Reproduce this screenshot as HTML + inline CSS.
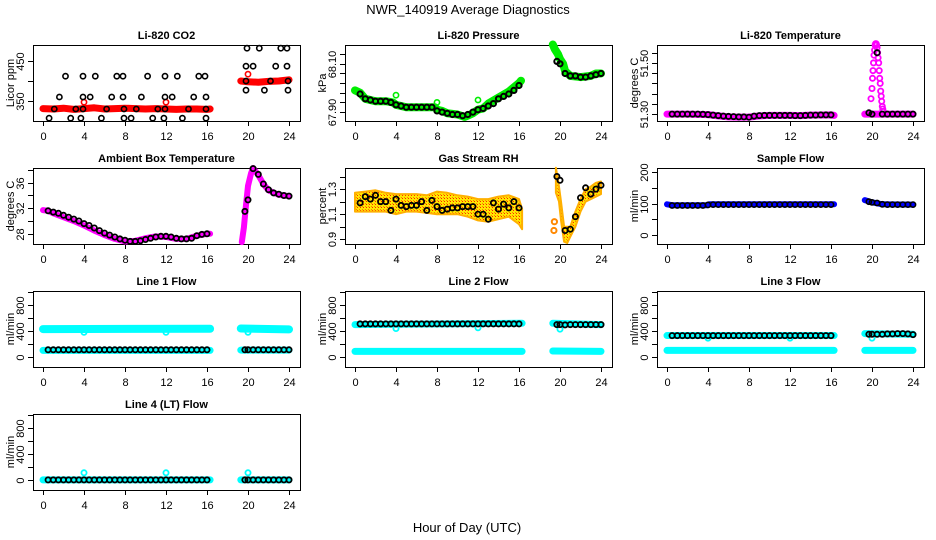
<!DOCTYPE html>
<html><head><meta charset="utf-8"><style>
html,body{margin:0;padding:0;background:#fff}
svg{display:block;font-family:"Liberation Sans",Arial,sans-serif}
</style></head><body>
<svg id="chart" width="936" height="540" viewBox="0 0 936 540" xmlns="http://www.w3.org/2000/svg">
<defs>
<pattern id="rhpat" width="3" height="3" patternUnits="userSpaceOnUse"><rect width="3" height="3" fill="#ffe800"/><rect width="1" height="1" fill="#ff2000"/><rect x="2" y="2" width="1" height="1" fill="#ff8000"/></pattern>
</defs>
<text x="468" y="14" font-size="13" text-anchor="middle">NWR_140919  Average Diagnostics</text>
<text x="467" y="532" font-size="13" text-anchor="middle">Hour of Day (UTC)</text>
</svg>
<script>
// ---- shared black-point times ----
const bT = [0.5,1,1.5,2,2.5,3,3.5,4,4.5,5,5.5,6,6.5,7,7.5,8,8.5,9,9.5,10,10.5,11,11.5,12,12.5,13,13.5,14,14.5,15,15.5,16,19.7,20,20.5,21,21.5,22,22.5,23,23.5,24];
const xTicks = [0,4,8,12,16,20,24];

// ---- CO2 ----
const co2RedT = [0,1,2,3,4,5,6,7,8,9,10,11,12,13,14,15,16,16.3,19.3,20,21,22,23,24];
const co2RedV = [331,330,332,329,331,333,330,331,332,331,330,331,330,329,330,330,329,330,400,398,397,399,400,403];
const co2OutT = [4,12,20];
const co2OutV = [347,347,417];
const co2BlkT = [0.6,1.1,1.6,2.2,2.7,3.2,3.7,3.9,3.9,3.9,4.6,5.1,5.7,6.2,6.7,7.2,7.8,7.8,7.9,7.9,8.6,9.1,9.6,10.2,10.7,11.2,11.8,11.9,11.9,11.9,12.6,13.1,13.6,14.2,14.7,15.2,15.8,15.9,15.9,15.9,19.8,19.8,19.8,19.9,20.5,21.1,21.6,22.2,22.7,23.2,23.8,23.8,23.9,23.9];
const co2BlkV = [307,330,360,412,307,330,307,412,360,330,360,412,307,330,360,412,412,360,307,330,307,330,360,412,307,330,307,412,360,330,360,412,307,330,360,412,412,360,307,330,377,400,437,482,437,482,377,400,437,482,482,437,400,377];

// ---- Pressure ----
const prT = [0,0.5,1,2,3,3.7,4,4.5,5,7,7.8,8,8.5,9,10,10.7,11,11.5,12,12.5,13,14,15,16,16.2,19.3,19.5,19.8,20,20.3,20.5,21,22,23,23.5,24];
const prV = [67.99,67.98,67.955,67.945,67.945,67.94,67.93,67.925,67.92,67.92,67.92,67.91,67.905,67.895,67.89,67.88,67.885,67.895,67.91,67.915,67.935,67.96,67.985,68.02,68.03,68.18,68.16,68.14,68.12,68.10,68.07,68.05,68.045,68.05,68.06,68.06];
const prOutT = [4,8,12];
const prOutV = [67.97,67.94,67.95];
const prBlkV = [67.975,67.955,67.95,67.945,67.945,67.945,67.94,67.93,67.925,67.92,67.92,67.92,67.92,67.92,67.92,67.905,67.9,67.895,67.89,67.89,67.885,67.89,67.9,67.91,67.915,67.925,67.935,67.955,67.965,67.975,67.99,68.01,68.11,68.10,68.06,68.05,68.05,68.045,68.045,68.05,68.055,68.06];

// ---- Li-820 Temperature ----
const ltT = [0,2,4,5,6,7,8,9,10,12,13,14,16,16.3,19.3,19.6,21.2,22,24];
const ltV = [51.30,51.30,51.298,51.293,51.289,51.288,51.288,51.293,51.295,51.295,51.294,51.296,51.297,51.295,51.30,51.30,51.30,51.30,51.30];
const ltPeakT = [19.9,20.0,20.05,20.1,20.15,20.2,20.25,20.3,20.35,20.4,20.45,20.5,20.55,20.6,20.65,20.7,20.75,20.8,20.85,20.9,20.95,21.0,21.05,21.1];
const ltPeakV = [51.36,51.40,51.44,51.47,51.50,51.53,51.55,51.57,51.575,51.575,51.57,51.56,51.54,51.52,51.50,51.47,51.44,51.42,51.39,51.37,51.35,51.33,51.32,51.31];
const ltBlkV = [51.30,51.30,51.30,51.30,51.30,51.30,51.299,51.298,51.296,51.294,51.292,51.291,51.290,51.289,51.289,51.288,51.292,51.294,51.295,51.295,51.295,51.295,51.295,51.295,51.294,51.294,51.295,51.296,51.296,51.297,51.297,51.297,51.305,51.30,51.54,51.30,51.30,51.30,51.30,51.30,51.30,51.30];

// ---- Ambient Box Temperature ----
const abT = [0,0.5,1,2,3,4,5,6,7,8,9,10,11,12,13,14,15,16,16.3,19.4,19.6,19.8,20,20.3,20.5,21,21.5,22,23,24];
const abV = [31.7,31.6,31.2,30.6,30.0,29.3,28.5,27.8,27.2,26.8,26.9,27.3,27.6,27.5,27.2,27.2,27.7,28.0,28.0,26.7,29.0,32.5,35.5,37.5,38.3,37.2,35.8,34.8,34.1,33.9];
const abBlkV = [31.6,31.4,31.2,30.9,30.6,30.3,30.0,29.6,29.3,28.9,28.5,28.1,27.8,27.5,27.2,27.0,26.8,26.8,26.9,27.1,27.3,27.5,27.6,27.6,27.5,27.3,27.2,27.2,27.3,27.7,27.9,28.0,31.5,33.3,38.2,37.3,35.8,34.9,34.4,34.2,34.0,33.9];

// ---- Gas Stream RH ----
const rhBandT = [0,1,2,3,4,5,6,7,8,9,10,11,12,13,14,15,16,16.3];
const rhLo = [1.12,1.12,1.12,1.12,1.10,1.12,1.12,1.11,1.10,1.10,1.10,1.08,1.05,1.04,1.06,1.08,1.02,0.98];
const rhHi = [1.27,1.28,1.29,1.27,1.26,1.26,1.26,1.25,1.28,1.27,1.25,1.24,1.22,1.22,1.24,1.25,1.22,1.14];
const rhBand2T = [19.6,19.9,20.1,20.4,20.7,21,21.5,22,22.5,23,23.5,24];
const rhLo2 = [1.27,1.20,1.05,0.88,0.87,0.92,1.00,1.12,1.20,1.22,1.24,1.26];
const rhHi2 = [1.47,1.32,1.20,1.00,1.00,1.00,1.12,1.22,1.30,1.32,1.35,1.36];
const rhSpotT = [19.4,19.45];
const rhSpotV = [0.97,1.04];
const rhBlkV = [1.19,1.24,1.22,1.25,1.20,1.20,1.13,1.22,1.17,1.16,1.17,1.17,1.20,1.13,1.21,1.16,1.13,1.14,1.15,1.15,1.16,1.16,1.16,1.10,1.10,1.06,1.19,1.14,1.18,1.15,1.20,1.15,1.40,1.37,0.97,0.98,1.08,1.23,1.31,1.26,1.30,1.33];

// ---- Sample Flow ----
const sfT = [0,0.5,4,4.1,16.3,19.3,19.8,20.2,21,24];
const sfV = [98,95,95,98,98,111,106,103,98,97];
const sfBlkV = [94,94,94,94,94,94,94,96,97,97,97,97,97,97,97,97,97,97,97,97,97,97,97,97,97,97,97,97,97,97,97,97,106,104,102,98,97,97,97,97,97,97];

// ---- Line flows ----
const lfT = [0,16.3,19.3,24];
const l1Up = [430,435,440,425];
const l1Lo = [100,100,105,105];
const l1OutV = [380,380,380];
const l1BlkV = [110,110,110,110,110,110,110,110,110,110,110,110,110,110,110,110,110,110,110,110,110,110,110,110,110,110,110,110,110,110,110,110,110,110,110,110,110,110,110,110,110,110];
const l2Up = [500,520,520,500];
const l2Lo = [85,85,90,85];
const l2OutV = [440,450,430];
const l2BlkV = [510,510,510,510,510,510,510,510,510,510,510,510,510,510,510,510,510,510,510,510,510,510,510,510,510,510,510,510,510,510,510,510,500,500,495,500,500,500,500,500,500,500];
const l3Up = [330,330,360,350];
const l3Lo = [100,100,100,100];
const l3OutV = [290,290,290];
const l3BlkV = [330,330,330,330,330,330,330,330,330,330,330,330,330,330,330,330,330,330,330,330,330,330,330,330,330,330,330,330,330,330,330,330,350,350,350,350,355,355,360,360,355,345];
const l4Up = [0,0,0,0];
const l4OutV = [110,110,110];
const l4BlkV = [0,0,0,0,0,0,0,0,0,0,0,0,0,0,0,0,0,0,0,0,0,0,0,0,0,0,0,0,0,0,0,0,0,0,0,0,0,0,0,0,0,0];
const outT = [4,12,20];

const svg = document.getElementById('chart');
const NS = 'http://www.w3.org/2000/svg';
const rowTops = [45,168,291,414];
function mk(tag, attrs, parent){
  const e = document.createElementNS(NS, tag);
  for (const k in attrs) e.setAttribute(k, attrs[k]);
  (parent||svg).appendChild(e);
  return e;
}
function panel(name, col, row, title, ylab, ymin, ymax, ticks, labels){
  const cx = col*312, top = rowTops[row], left = cx+33, w = 267, h = 76;
  const g = mk('g', {});
  
  
  const X = t => cx + 43 + t*246/24;
  const Y = v => top + (ymax - v)/(ymax - ymin)*h;
  const t1 = mk('text', {x: left + w/2, y: top-6, 'font-size': 11, 'font-weight': 'bold', 'text-anchor': 'middle'}, g);
  t1.textContent = title;
  
  
  const box = mk('rect', {x: left+0.5, y: top+0.5, width: w, height: h, fill: 'none', stroke: '#000', 'stroke-width': 1}, g);
  
  
  const xa = mk('g', {}, g);
  
  
  xTicks.forEach(t => {
    const x = Math.round(X(t)) + 0.5;
    mk('line', {x1: x, x2: x, y1: top+h, y2: top+h+5, stroke: '#000'}, xa);
    const tl = mk('text', {x: x, y: top+h+19, 'font-size': 11, 'text-anchor': 'middle'}, xa);
    tl.textContent = t;
  });
  const ya = mk('g', {}, g);
  
  
  ticks.forEach((v, i) => {
    const y = Math.round(Y(v)) + 0.5;
    mk('line', {x1: left-5, x2: left, y1: y, y2: y, stroke: '#000'}, ya);
    if (labels[i]) {
      const tl = mk('text', {x: left-9, y: y, 'font-size': 11, 'text-anchor': 'middle', transform: `rotate(-90 ${left-9} ${y})`}, ya);
      tl.textContent = labels[i];
    }
  });
  const yt = mk('text', {x: cx+14, y: top+h/2, 'font-size': 11, 'text-anchor': 'middle', transform: `rotate(-90 ${cx+14} ${top+h/2})`}, g);
  yt.textContent = ylab;
  
  
  return {g, X, Y};
}
// data gap: no measurements between ~16.5h and ~19h
const isGap = (a, b) => a < 17 && b > 19;
function band(p, name, T, V, color, width){
  const g = mk('g', {}, p.g);
  
  
  let d = '';
  for (let i = 0; i < T.length; i++) {
    const cmd = (i === 0 || isGap(T[i-1], T[i])) ? 'M' : 'L';
    d += cmd + p.X(T[i]).toFixed(1) + ' ' + p.Y(V[i]).toFixed(2) + ' ';
  }
  mk('path', {d: d, fill: 'none', stroke: color, 'stroke-width': width, 'stroke-linejoin': 'round', 'stroke-linecap': 'round'}, g);
}
function pts(p, name, T, V, color, sw){
  const g = mk('g', {}, p.g);
  
  
  for (let i = 0; i < T.length; i++) {
    mk('circle', {cx: p.X(T[i]).toFixed(1), cy: p.Y(V[i]).toFixed(1), r: 2.6, fill: 'none', stroke: color, 'stroke-width': sw||1.6}, g);
  }
}
function area(p, name, T, lo, hi){
  let d = '';
  for (let i = 0; i < T.length; i++) d += (i?'L':'M') + p.X(T[i]).toFixed(1) + ' ' + p.Y(hi[i]).toFixed(1) + ' ';
  for (let i = T.length-1; i >= 0; i--) d += 'L' + p.X(T[i]).toFixed(1) + ' ' + p.Y(lo[i]).toFixed(1) + ' ';
  const e = mk('path', {d: d + 'Z', fill: 'url(#rhpat)', stroke: '#ffb000', 'stroke-width': 2, 'stroke-linejoin': 'round'}, p.g);
  
  
}
const CY = '#00ffff';
const flowTicks = [0,200,400,600,800,1000], flowLabels = ['0','','400','','800',''];

let p = panel('co2', 0, 0, 'Li-820 CO2', 'Licor ppm', 300, 490, [350,400,450], ['350','','450']);
band(p, 'co2-red-series', co2RedT, co2RedV, '#ff0000', 7);
pts(p, 'co2-red-outliers', co2OutT, co2OutV, '#ff0000');
pts(p, 'co2-black-points', co2BlkT, co2BlkV, '#000');

p = panel('pressure', 1, 0, 'Li-820 Pressure', 'kPa', 67.863, 68.178, [67.90,67.94,67.98,68.02,68.06,68.10,68.14], ['67.90','','','','','68.10','']);
band(p, 'pressure-green-series', prT, prV, '#00ee00', 8);
pts(p, 'pressure-green-outliers', prOutT, prOutV, '#00ee00');
pts(p, 'pressure-black-points', bT, prBlkV, '#000', 2);

p = panel('li820-temp', 2, 0, 'Li-820 Temperature', 'degrees C', 51.273, 51.57, [51.30,51.34,51.38,51.42,51.46,51.50,51.54], ['51.30','','','','','51.50','']);
band(p, 'li820-temp-magenta-series', ltT, ltV, '#ff00ff', 7);
pts(p, 'li820-temp-peak-points', ltPeakT, ltPeakV, '#ff00ff', 1.8);
pts(p, 'li820-temp-black-points', bT, ltBlkV, '#000', 1.8);

p = panel('ambient-temp', 0, 1, 'Ambient Box Temperature', 'degrees C', 26.4, 38.3, [28,30,32,34,36,38], ['28','','32','','36','']);
band(p, 'ambient-temp-magenta-series', abT, abV, '#ff00ff', 6);
pts(p, 'ambient-temp-black-points', bT, abBlkV, '#000', 1.8);

p = panel('rh', 1, 1, 'Gas Stream RH', 'percent', 0.862, 1.468, [0.9,1.0,1.1,1.2,1.3,1.4], ['0.9','','1.1','','1.3','']);
area(p, 'rh-band-morning', rhBandT, rhLo, rhHi);
area(p, 'rh-band-evening', rhBand2T, rhLo2, rhHi2);
pts(p, 'rh-orange-spots', rhSpotT, rhSpotV, '#ff8800', 2);
pts(p, 'rh-black-points', bT, rhBlkV, '#000', 1.8);

p = panel('sample-flow', 2, 1, 'Sample Flow', 'ml/min', -28, 213, [0,50,100,150,200], ['0','','100','','200']);
band(p, 'sample-flow-blue-series', sfT, sfV, '#0000ff', 6);
pts(p, 'sample-flow-black-points', bT, sfBlkV, '#000', 1.6);

p = panel('line1-flow', 0, 2, 'Line 1 Flow', 'ml/min', -157, 1020, flowTicks, flowLabels);
band(p, 'line1-upper-series', lfT, l1Up, CY, 8);
band(p, 'line1-lower-series', lfT, l1Lo, CY, 7);
pts(p, 'line1-outliers', outT, l1OutV, CY, 1.8);
pts(p, 'line1-black-points', bT, l1BlkV, '#000', 1.8);

p = panel('line2-flow', 1, 2, 'Line 2 Flow', 'ml/min', -157, 1020, flowTicks, flowLabels);
band(p, 'line2-upper-series', lfT, l2Up, CY, 7);
band(p, 'line2-lower-series', lfT, l2Lo, CY, 7);
pts(p, 'line2-outliers', outT, l2OutV, CY, 1.8);
pts(p, 'line2-black-points', bT, l2BlkV, '#000', 1.8);

p = panel('line3-flow', 2, 2, 'Line 3 Flow', 'ml/min', -157, 1020, flowTicks, flowLabels);
band(p, 'line3-upper-series', lfT, l3Up, CY, 7);
band(p, 'line3-lower-series', lfT, l3Lo, CY, 7);
pts(p, 'line3-outliers', outT, l3OutV, CY, 1.8);
pts(p, 'line3-black-points', bT, l3BlkV, '#000', 1.8);

p = panel('line4-flow', 0, 3, 'Line 4 (LT) Flow', 'ml/min', -157, 1020, flowTicks, flowLabels);
band(p, 'line4-cyan-series', lfT, l4Up, CY, 7);
pts(p, 'line4-outliers', outT, l4OutV, CY, 1.8);
pts(p, 'line4-black-points', bT, l4BlkV, '#000', 1.8);
</script>
</body></html>
